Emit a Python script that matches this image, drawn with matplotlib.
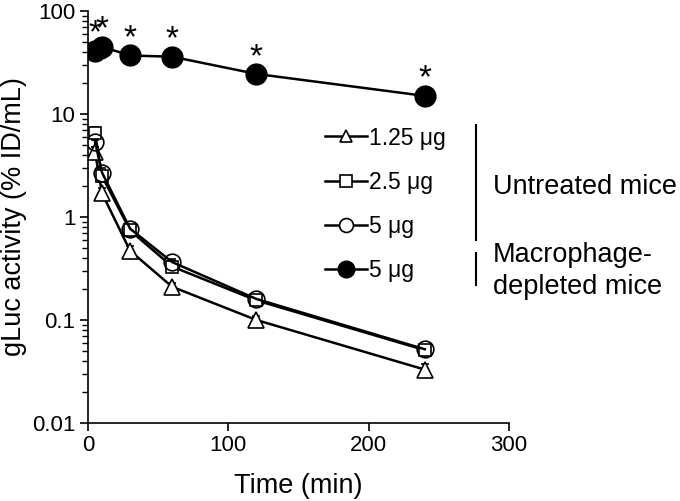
import matplotlib
matplotlib.use("Agg")
import matplotlib.pyplot as plt
from matplotlib.lines import Line2D
import numpy as np

plt.rcParams['font.family'] = ['Liberation Sans', 'DejaVu Sans']

# data (% ID/mL)
time = [5, 10, 30, 60, 120, 240]
tri_125 = [4.3, 1.7, 0.47, 0.21, 0.10, 0.033]
tri_err = [0.5, 0.2, 0.05, 0.02, 0.01, 0.004]
sq_25 = [6.5, 2.5, 0.74, 0.33, 0.155, 0.051]
sq_err = [0.9, 0.3, 0.08, 0.04, 0.015, 0.006]
ci_5 = [5.4, 2.7, 0.77, 0.365, 0.16, 0.052]
ci_err = [0.6, 0.3, 0.06, 0.03, 0.012, 0.005]
dep_5 = [41, 45, 37, 36, 24.5, 15]
dep_err = [4, 10, 5, 3, 2, 1.5]

labels = ['1.25 μg', '2.5 μg', '5 μg', '5 μg']

fig = plt.figure(figsize=(6.8, 5.01), dpi=100)
ax = fig.add_axes([0.1294, 0.1557, 0.6191, 0.8223])

lw = 1.8
kw = dict(color='black', lw=lw, capsize=3, elinewidth=1.2, capthick=1.2)
ax.errorbar(time, tri_125, yerr=tri_err, marker='^', ms=11, mfc='white', mec='black', mew=1.2, **kw)
ax.errorbar(time, sq_25, yerr=sq_err, marker='s', ms=9, mfc='white', mec='black', mew=1.2, **kw)
ax.errorbar(time, ci_5, yerr=ci_err, marker='o', ms=12, mfc='none', mec='black', mew=1.2, **kw)
ax.errorbar(time, dep_5, yerr=dep_err, marker='o', ms=15, mfc='black', mec='black', **kw)

# significance marks
for t, v in zip(time, dep_5):
    ax.annotate('*', (t, v), xytext=(0, 12), textcoords='offset points',
                ha='center', va='center', fontsize=24)

ax.set_yscale('log')
ax.set_xlim(0, 300)
ax.set_ylim(0.01, 100)
ax.set_xticks([0, 100, 200, 300])
ax.set_yticks([0.01, 0.1, 1, 10, 100])
ax.set_yticklabels(['0.01', '0.1', '1', '10', '100'])
ax.spines['top'].set_visible(False)
ax.spines['right'].set_visible(False)
for s in ['left', 'bottom']:
    ax.spines[s].set_linewidth(1.2)
ax.tick_params(axis='both', which='major', labelsize=16, length=6, width=1.2, pad=3)
ax.tick_params(axis='y', which='minor', length=4, width=1)
ax.set_xlabel('Time (min)', fontsize=19.5, labelpad=12)
ax.set_ylabel('gLuc activity (% ID/mL)', fontsize=19.5, labelpad=4)

leg_handles = [
    Line2D([], [], color='black', lw=lw, marker='^', ms=9, mfc='white', mec='black', mew=1.2),
    Line2D([], [], color='black', lw=lw, marker='s', ms=8, mfc='white', mec='black', mew=1.2),
    Line2D([], [], color='black', lw=lw, marker='o', ms=10, mfc='white', mec='black', mew=1.2),
    Line2D([], [], color='black', lw=lw, marker='o', ms=12, mfc='black', mec='black'),
]
fig.legend(leg_handles, labels, loc='upper left', bbox_to_anchor=(0.478, 0.7475),
           frameon=False, fontsize=16.5, handlelength=1.85, handletextpad=0.08,
           labelspacing=0.92, borderpad=0, borderaxespad=0)

# group brackets
W, H = 680, 501
fig.add_artist(Line2D([476 / W, 476 / W], [1 - 125 / H, 1 - 240 / H], color='black', lw=1.5))
fig.add_artist(Line2D([476 / W, 476 / W], [1 - 253 / H, 1 - 285 / H], color='black', lw=1.5))
fig.text(493 / W, 1 - 187 / H, 'Untreated mice', fontsize=19.5, va='center', ha='left')
fig.text(493 / W, 1 - 271 / H, 'Macrophage-\ndepleted mice', fontsize=19.5, va='center', ha='left',
         linespacing=1.25)

fig.savefig('out.png', dpi=100)
